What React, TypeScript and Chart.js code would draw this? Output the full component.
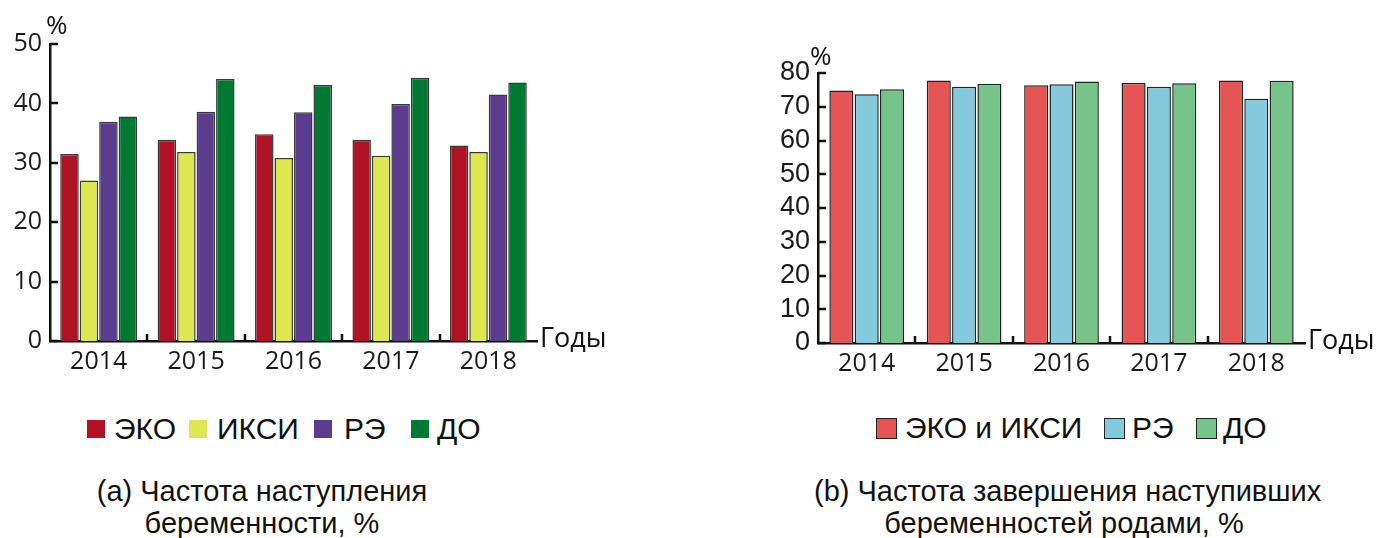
import React, { useEffect, useRef } from "react";
import { Chart, registerables } from "chart.js";

Chart.register(...registerables);

const years = ["2014", "2015", "2016", "2017", "2018"];

// (a) pregnancy rate, %
const ekoA = [31.5, 33.9, 34.8, 33.9, 32.9];
const iksiA = [27.0, 31.8, 30.8, 31.2, 31.8];
const reA = [36.9, 38.6, 38.5, 39.9, 41.5];
const doA = [37.8, 44.1, 43.1, 44.3, 43.5];

// (b) delivery rate of pregnancies, %
const ekoIksiB = [74.8, 77.8, 76.4, 77.1, 77.8];
const reB = [73.7, 75.9, 76.7, 75.9, 72.4];
const doB = [75.2, 76.8, 77.5, 77.0, 77.7];

const yMaxA = 50;
const yMaxB = 80;
const yStep = 10;

const tickFont = "'Open Sans', 'DejaVu Sans', sans-serif";
const textFont = "'Liberation Sans', Arial, sans-serif";

const axisTicks = {
  id: "axisTicks",
  afterDraw(chart: any) {
    const { ctx, chartArea } = chart;
    const x = chart.scales.x;
    const y = chart.scales.y;
    ctx.save();
    ctx.strokeStyle = "#111";
    ctx.lineWidth = 2.5;
    ctx.beginPath();
    y.ticks.forEach((_t: any, i: number) => {
      const py = Math.round(y.getPixelForTick(i));
      ctx.moveTo(chartArea.left, py);
      ctx.lineTo(chartArea.left + 8, py);
    });
    for (let i = 0; i < x.ticks.length - 1; i++) {
      const px = Math.round((x.getPixelForTick(i) + x.getPixelForTick(i + 1)) / 2);
      ctx.moveTo(px, chartArea.bottom);
      ctx.lineTo(px, chartArea.bottom - 7);
    }
    ctx.stroke();
    ctx.restore();
  },
};

function makeConfig(
  datasets: any[],
  yMax: number,
  yWidth: number,
  xHeight: number,
  padTop: number,
  padRight: number,
  catPct: number,
  barPct: number,
  yFont: any
): any {
  return {
    type: "bar",
    data: {
      labels: years,
      datasets: datasets.map((d) => ({
        ...d,
        borderWidth: 1.5,
        borderSkipped: "start",
        categoryPercentage: catPct,
        barPercentage: barPct,
      })),
    },
    plugins: [axisTicks],
    options: {
      animation: false,
      responsive: false,
      maintainAspectRatio: false,
      layout: { padding: { top: padTop, right: padRight, left: 0, bottom: 0 } },
      plugins: { legend: { display: false }, tooltip: { enabled: false } },
      scales: {
        x: {
          grid: { display: false, drawTicks: false },
          border: { display: true, color: "#111", width: 2.5 },
          ticks: { color: "#1a1a1a", font: { family: tickFont, size: 25 }, padding: 6, autoSkip: false, maxRotation: 0 },
          afterFit: (s: any) => {
            s.height = xHeight;
          },
        },
        y: {
          min: 0,
          max: yMax,
          grid: { display: false, drawTicks: false },
          border: { display: true, color: "#111", width: 2.5 },
          ticks: { stepSize: yStep, color: "#1a1a1a", font: yFont, padding: 8, autoSkip: false },
          afterFit: (s: any) => {
            s.width = yWidth;
          },
        },
      },
    },
  };
}

function ChartCanvas({ config, width, height, left, top }: any) {
  const ref = useRef<HTMLCanvasElement | null>(null);
  useEffect(() => {
    if (!ref.current) return;
    const c = new Chart(ref.current, config);
    return () => c.destroy();
  }, []);
  return (
    <canvas
      ref={ref}
      width={width}
      height={height}
      style={{ position: "absolute", left, top, width, height }}
    />
  );
}

const abs = (left: number, top: number, extra: any = {}) => ({
  position: "absolute" as const,
  left,
  top,
  whiteSpace: "nowrap" as const,
  ...extra,
});

function Swatch({ left, top, color, border }: any) {
  return (
    <div
      style={abs(left, top, {
        width: border ? 19 : 18,
        height: border ? 19 : 18,
        background: color,
        border: border ? "1.5px solid #222" : "none",
      })}
    />
  );
}

export default function App() {
  const cfgA = makeConfig(
    [
      { label: "ЭКО", data: ekoA, backgroundColor: "#B01326", borderColor: "#3a3a3a" },
      { label: "ИКСИ", data: iksiA, backgroundColor: "#DDE850", borderColor: "#3a3a3a" },
      { label: "РЭ", data: reA, backgroundColor: "#5B3C8E", borderColor: "#3a3a3a" },
      { label: "ДО", data: doA, backgroundColor: "#007932", borderColor: "#3a3a3a" },
    ],
    yMaxA,
    50,
    49,
    44,
    83,
    0.8,
    0.95,
    { family: tickFont, size: 25 }
  );
  const cfgB = makeConfig(
    [
      { label: "ЭКО и ИКСИ", data: ekoIksiB, backgroundColor: "#E55555", borderColor: "#222" },
      { label: "РЭ", data: reB, backgroundColor: "#84C9DC", borderColor: "#222" },
      { label: "ДО", data: doB, backgroundColor: "#76C489", borderColor: "#222" },
    ],
    yMaxB,
    58,
    47,
    73,
    73,
    0.78,
    0.95,
    { family: textFont, size: 27 }
  );

  const tStyle = { fontFamily: textFont, fontSize: 29, color: "#111", lineHeight: "32px" };
  const lStyle = { fontFamily: textFont, fontSize: 30, color: "#111", lineHeight: "34px" };
  const mStyle = { fontFamily: tickFont, fontSize: 25, color: "#111", lineHeight: "30px" };

  return (
    <div style={{ position: "absolute", left: 0, top: 0, width: 1378, height: 538, background: "#fff", overflow: "hidden" }}>
      <ChartCanvas config={cfgA} width={620} height={390} left={0} top={0} />
      <ChartCanvas config={cfgB} width={618} height={390} left={760} top={0} />

      {/* axis captions */}
      <div style={abs(46, 9, { ...mStyle, fontSize: 26 })}>%</div>
      <div style={abs(540, 322, { ...mStyle, fontSize: 27 })}>Годы</div>
      <div style={abs(810, 40, { ...mStyle, fontSize: 26 })}>%</div>
      <div style={abs(1308, 324, { ...mStyle, fontSize: 27 })}>Годы</div>

      {/* legend (a) */}
      <Swatch left={87} top={420} color="#B01326" />
      <div style={abs(114, 412, lStyle)}>ЭКО</div>
      <Swatch left={189} top={420} color="#DDE850" />
      <div style={abs(217, 412, lStyle)}>ИКСИ</div>
      <Swatch left={314} top={420} color="#5B3C8E" />
      <div style={abs(344, 412, lStyle)}>РЭ</div>
      <Swatch left={411} top={420} color="#007932" />
      <div style={abs(437, 412, lStyle)}>ДО</div>

      {/* legend (b) */}
      <Swatch left={876} top={418} color="#E55555" border />
      <div style={abs(905, 411, lStyle)}>ЭКО и ИКСИ</div>
      <Swatch left={1104} top={418} color="#84C9DC" border />
      <div style={abs(1132, 411, lStyle)}>РЭ</div>
      <Swatch left={1196} top={418} color="#76C489" border />
      <div style={abs(1223, 411, lStyle)}>ДО</div>

      {/* captions */}
      <div style={abs(62, 475, { ...tStyle, width: 400, textAlign: "center" })}>
        (a) Частота наступления
        <br />
        беременности, %
      </div>
      <div style={abs(814, 475, { ...tStyle, width: 500, textAlign: "center" })}>
        (b) Частота завершения наступивших
        <br />
        беременностей родами, %
      </div>
    </div>
  );
}
